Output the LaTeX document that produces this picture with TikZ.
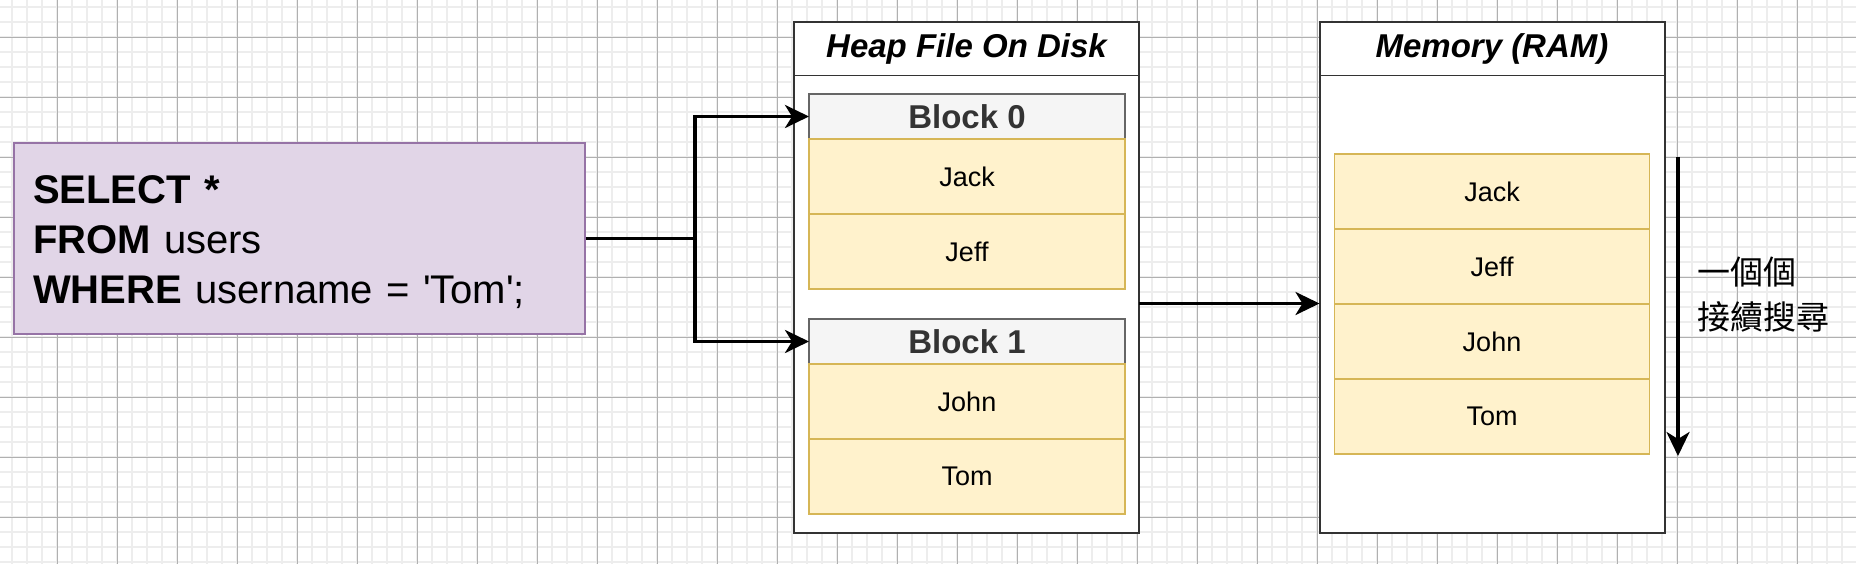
\documentclass[tikz,border=0pt]{standalone}
\usepackage{fontspec}
\setmainfont{Liberation Sans}
\newfontfamily\cjk{Noto Sans CJK TC}
\usetikzlibrary{arrows.meta}
\definecolor{sqlfill}{HTML}{E1D5E7}
\definecolor{sqldraw}{HTML}{9673A6}
\definecolor{rowfill}{HTML}{FFF2CC}
\definecolor{rowdraw}{HTML}{D6B656}
\definecolor{hdrfill}{HTML}{F5F5F5}
\definecolor{hdrdraw}{HTML}{666666}
\definecolor{hdrtext}{HTML}{333333}
\definecolor{gridminor}{HTML}{EDEDED}
\definecolor{gridmajor}{HTML}{B0B0B0}

\begin{document}
\begin{tikzpicture}[x=1pt,y=-1pt,
		box/.style={draw=black!80,line width=2pt,fill=white,minimum width=345pt,minimum height=510pt,inner sep=0pt,outer sep=0pt},
		ttl/.style={font=\fontsize{33}{40}\selectfont\bfseries\itshape},
		hdr/.style={draw=hdrdraw,line width=1.5pt,fill=hdrfill,text=hdrtext,minimum width=316pt,minimum height=45pt,inner sep=0pt,outer sep=0pt,font=\fontsize{33}{40}\selectfont\bfseries},
		row/.style={draw=rowdraw,line width=1.5pt,fill=rowfill,minimum width=316pt,minimum height=75pt,inner sep=0pt,outer sep=0pt,font=\fontsize{27}{32}\selectfont},
		link/.style={line width=3.5pt,-{Stealth[length=24pt,width=23pt,inset=7pt]}}]
			% background grid
			\useasboundingbox (0,0) rectangle (1856,564);
			\fill[white] (0,0) rectangle (1856,564);
			\foreach \x in {12,27,...,1856} \draw[gridminor,line width=1.8pt] (\x,0) -- (\x,564);
			\foreach \y in {7,22,...,564} \draw[gridminor,line width=1.8pt] (0,\y) -- (1856,\y);
			\foreach \x in {57,117,...,1856} \draw[gridmajor,line width=0.8pt] (\x,0) -- (\x,564);
			\foreach \y in {37,97,...,564} \draw[gridmajor,line width=0.8pt] (0,\y) -- (1856,\y);
			% query
			\node[draw=sqldraw,line width=1.5pt,fill=sqlfill,minimum width=571pt,minimum height=191pt,text width=533pt,align=left,inner sep=0pt,font=\fontsize{40}{50}\selectfont] (sql) at (299.5,238.5)
				{\rule{0pt}{36pt}\textbf{SELECT *}\\\textbf{FROM} users\\\textbf{WHERE} username = \textquotesingle Tom\textquotesingle;};
			% heap file
			\node[box] (heap) at (966.5,277.5) {};
			\node[ttl] (heapttl) at (966.5,49) {Heap File On Disk};
			\draw[black!80,line width=1.5pt] (heap.west |- 0,75.5) -- (heap.east |- 0,75.5);
			\node[hdr] (blk0) at (967,116.5) {Block 0};
			\node[row] (jack0) at (967,176.5) {Jack};
			\node[row] (jeff0) at (967,251.5) {Jeff};
			\node[hdr] (blk1) at (967,341.5) {Block 1};
			\node[row] (john1) at (967,401.5) {John};
			\node[row] (tom1) at (967,476.5) {Tom};
			% memory
			\node[box] (mem) at (1492,277.5) {};
			\node[ttl] (memttl) at (1492,49) {Memory (RAM)};
			\draw[black!80,line width=1.5pt] (mem.west |- 0,75.5) -- (mem.east |- 0,75.5);
			\node[row,minimum width=315pt] (jack) at (1492,191.5) {Jack};
			\node[row,minimum width=315pt] (jeff) at (1492,266.5) {Jeff};
			\node[row,minimum width=315pt] (john) at (1492,341.5) {John};
			\node[row,minimum width=315pt] (tom) at (1492,416.5) {Tom};
			\coordinate (scantop) at (1678,157);
			\coordinate (scanbot) at (1678,456);
			\node[anchor=west,align=left,font=\cjk\fontsize{33}{45}\selectfont,inner sep=0pt] (scan) at (1697,295) {一個個\\接續搜尋};
			% connectors
			\coordinate (fork) at (695,238.5);
			\draw[link] (sql.east) -- (fork) |- (blk0.west);
			\draw[link] (fork) |- (blk1.west);
			\draw[link] (heap.east |- 0,303.5) -- (mem.west |- 0,303.5);
			\draw[link] (scantop) -- (scanbot);
		\end{tikzpicture}
\end{document}
